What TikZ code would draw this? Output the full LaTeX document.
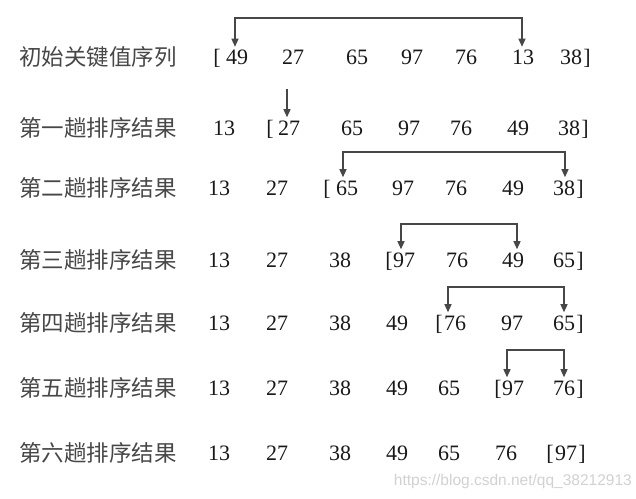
\documentclass[tikz,border=0pt]{standalone}
\usepackage{fontspec}
\setmainfont{Liberation Serif}
\newfontfamily\cjk{Noto Sans CJK SC}
\newfontfamily\wmfont{Liberation Sans}
\usetikzlibrary{arrows.meta}
\begin{document}
\begin{tikzpicture}[x=1pt,y=-1pt,
  num/.style={anchor=base,inner sep=0pt,font=\fontsize{22}{24}\selectfont,text=black!90},
  lbl/.style={anchor=base west,inner sep=0pt,font=\cjk\fontsize{22.5}{24}\selectfont,text=black!72},
  link/.style={draw=black!72,line width=1.2pt,shorten >=3pt,shorten <=3pt},
  tip/.style={-{Triangle[length=8pt,width=7pt]}},
  both/.style={{Triangle[length=8pt,width=7pt]}-{Triangle[length=8pt,width=7pt]}},
  wm/.style={anchor=base east,inner sep=0pt,font=\wmfont\fontsize{15.5}{17}\selectfont,text=black!18}]
\useasboundingbox (0,0) rectangle (636,498);
% row 1
\node[lbl] (l1) at (19,65.5) {初始关键值序列};
\node[num] (r1b) at (217,64.5) {[};
\node[num] (r1a) at (237,64.5) {49};
\node[num] (r1c) at (293,64.5) {27};
\node[num] (r1d) at (357,64.5) {65};
\node[num] (r1e) at (412,64.5) {97};
\node[num] (r1f) at (466,64.5) {76};
\node[num] (r1g) at (523,64.5) {13};
\node[num] (r1h) at (571,64.5) {38};
\node[num] (r1k) at (587,64.5) {]};
% row 2
\node[lbl] (l2) at (19,136) {第一趟排序结果};
\node[num] (r2a) at (224,135) {13};
\node[num] (r2b) at (270,135) {[};
\node[num] (r2c) at (289,135) {27};
\node[num] (r2d) at (352,135) {65};
\node[num] (r2e) at (409,135) {97};
\node[num] (r2f) at (461,135) {76};
\node[num] (r2g) at (518,135) {49};
\node[num] (r2h) at (569,135) {38};
\node[num] (r2k) at (585,135) {]};
% row 3
\node[lbl] (l3) at (19,196) {第二趟排序结果};
\node[num] (r3a) at (219,195) {13};
\node[num] (r3b) at (277,195) {27};
\node[num] (r3k1) at (327,195) {[};
\node[num] (r3c) at (347,195) {65};
\node[num] (r3d) at (403,195) {97};
\node[num] (r3e) at (456,195) {76};
\node[num] (r3f) at (513,195) {49};
\node[num] (r3g) at (564,195) {38};
\node[num] (r3k2) at (580,195) {]};
% row 4
\node[lbl] (l4) at (19,268) {第三趟排序结果};
\node[num] (r4a) at (219,267) {13};
\node[num] (r4b) at (277,267) {27};
\node[num] (r4c) at (340,267) {38};
\node[num] (r4k1) at (389,267) {[};
\node[num] (r4d) at (404,267) {97};
\node[num] (r4e) at (457,267) {76};
\node[num] (r4f) at (513,267) {49};
\node[num] (r4g) at (564,267) {65};
\node[num] (r4k2) at (580,267) {]};
% row 5
\node[lbl] (l5) at (19,331) {第四趟排序结果};
\node[num] (r5a) at (219,330) {13};
\node[num] (r5b) at (277,330) {27};
\node[num] (r5c) at (340,330) {38};
\node[num] (r5d) at (397,330) {49};
\node[num] (r5k1) at (439,330) {[};
\node[num] (r5e) at (455,330) {76};
\node[num] (r5f) at (512,330) {97};
\node[num] (r5g) at (564,330) {65};
\node[num] (r5k2) at (580,330) {]};
% row 6
\node[lbl] (l6) at (19,396) {第五趟排序结果};
\node[num] (r6a) at (219,395) {13};
\node[num] (r6b) at (277,395) {27};
\node[num] (r6c) at (340,395) {38};
\node[num] (r6d) at (397,395) {49};
\node[num] (r6e) at (449,395) {65};
\node[num] (r6k1) at (498,395) {[};
\node[num] (r6f) at (513,395) {97};
\node[num] (r6g) at (564,395) {76};
\node[num] (r6k2) at (580,395) {]};
% row 7
\node[lbl] (l7) at (19,461) {第六趟排序结果};
\node[num] (r7a) at (219,460) {13};
\node[num] (r7b) at (277,460) {27};
\node[num] (r7c) at (340,460) {38};
\node[num] (r7d) at (397,460) {49};
\node[num] (r7e) at (449,460) {65};
\node[num] (r7f) at (506,460) {76};
\node[num] (r7k1) at (550,460) {[};
\node[num] (r7g) at (566,460) {97};
\node[num] (r7k2) at (582,460) {]};
% connectors
\coordinate (t1) at (380,18);
\coordinate (t2) at (287,89);
\coordinate (t3) at (450,152);
\coordinate (t4) at (450,224);
\coordinate (t5) at (500,287);
\coordinate (t6) at (530,350);
\draw[link,both] ([xshift=-2pt]r1a.north) |- (t1) -| ([xshift=-1pt]r1g.north);
\draw[link,tip,shorten <=0pt] (t2) -- ([xshift=-2pt]r2c.north);
\draw[link,both] ([xshift=-4pt]r3c.north) |- (t3) -| ([xshift=1pt]r3g.north);
\draw[link,both] ([xshift=-3pt]r4d.north) |- (t4) -| ([xshift=4pt]r4f.north);
\draw[link,both] ([xshift=-7pt]r5e.north) |- (t5) -| ([xshift=0pt]r5g.north);
\draw[link,both] ([xshift=-6pt]r6f.north) |- (t6) -| ([xshift=0pt]r6g.north);
\node[wm] (w) at (632,485) {https://blog.csdn.net/qq\_38212913};
\end{tikzpicture}
\end{document}
